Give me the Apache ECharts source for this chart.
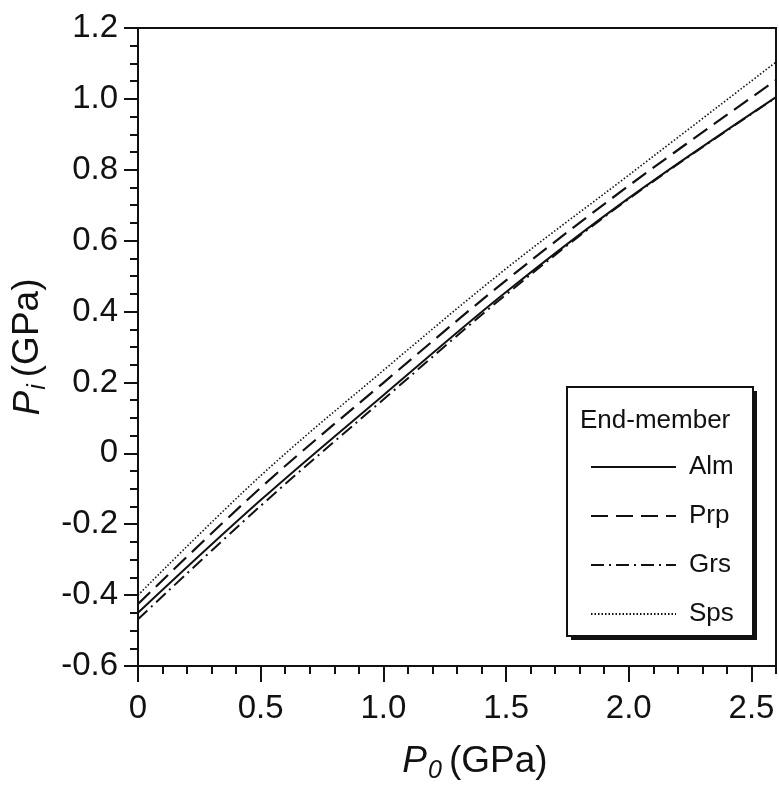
<!DOCTYPE html>
<html>
<head>
<meta charset="utf-8">
<script src="https://cdn.jsdelivr.net/npm/echarts@6/dist/echarts.min.js"></script>
<style>
  html, body { margin: 0; padding: 0; background: #fff; }
  #chart { width: 779px; height: 790px; }
</style>
</head>
<body>
<div id="chart"></div>
<script>
// Initial pressure P0 (GPa) at which each curve is sampled
const p0 = [0, 0.5, 1.0, 1.5, 2.0, 2.6];

// Inclusion pressure Pi (GPa) for each garnet end-member
const alm = [-0.450, -0.132, 0.164, 0.455, 0.720, 1.005];
const prp = [-0.425, -0.097, 0.199, 0.488, 0.755, 1.053];
const grs = [-0.468, -0.148, 0.152, 0.448, 0.718, 1.004];
const sps = [-0.400, -0.063, 0.234, 0.521, 0.785, 1.104];

const seriesNames = ['Alm', 'Prp', 'Grs', 'Sps'];
const legendTitle = 'End-member';

// Axis ranges and tick positions
const xMin = 0, xMax = 2.6, xMajor = 0.5, xMinor = 0.1;
const yMin = -0.6, yMax = 1.2, yMajor = 0.2;
const xMajorTicks = [0, 0.5, 1.0, 1.5, 2.0, 2.5];

const FONT = "'Liberation Sans', Arial, sans-serif";

function pairs(xs, ys) { return xs.map((x, i) => [x, ys[i]]); }

function xLabel(v) {
  if (Math.abs(v * 2 - Math.round(v * 2)) > 1e-6) return '';
  if (v > 2.55) return '';
  return v === 0 ? '0' : v.toFixed(1);
}
function yLabel(v) {
  if (Math.abs(v) < 1e-9) return '0';
  return v.toFixed(1);
}

const titleRich = {
  p: { fontFamily: FONT, fontSize: 37, fontStyle: 'italic', color: '#111', lineHeight: 44, verticalAlign: 'middle' },
  s: { fontFamily: FONT, fontSize: 25, fontStyle: 'italic', color: '#111', lineHeight: 25, verticalAlign: 'bottom', padding: [0, 7, 0, 1] },
  n: { fontFamily: FONT, fontSize: 37, color: '#111', lineHeight: 44, verticalAlign: 'middle' }
};

const lineCommon = { type: 'line', smooth: 0.35, showSymbol: false, symbol: 'none', xAxisIndex: 0, yAxisIndex: 0 };

const chart = echarts.init(document.getElementById('chart'), null, { renderer: 'canvas' });

chart.setOption({
  animation: false,
  backgroundColor: '#fff',
  grid: {
    left: 138, right: 3, top: 28, bottom: 124,
    show: true, borderColor: '#111', borderWidth: 2, backgroundColor: 'transparent'
  },
  xAxis: [
    {
      type: 'value', min: xMin, max: xMax, interval: xMinor,
      name: '{p|P}{s|0}{n|(GPa)}',
      nameLocation: 'middle', nameGap: 74,
      nameTextStyle: { rich: titleRich, padding: [0, 0, 0, 36] },
      axisLine: { show: true, onZero: false, lineStyle: { color: '#111', width: 2 } },
      axisTick: { show: true, inside: false, length: 8, lineStyle: { color: '#111', width: 2 } },
      axisLabel: { formatter: xLabel, margin: 26, fontFamily: FONT, fontSize: 33, color: '#111' },
      splitLine: { show: false }
    },
    {
      type: 'value', min: xMin, max: xMax, interval: xMajor, position: 'bottom',
      axisLine: { show: false, onZero: false },
      axisTick: { show: true, length: 16, customValues: xMajorTicks, lineStyle: { color: '#111', width: 2 } },
      axisLabel: { show: false },
      splitLine: { show: false }
    }
  ],
  yAxis: {
    type: 'value', min: yMin, max: yMax, interval: yMajor,
    name: '{p|P}{s|i}{n|(GPa)}',
    nameLocation: 'middle', nameGap: 79, nameRotate: 90,
    nameTextStyle: { rich: titleRich },
    axisLine: { show: true, onZero: false, lineStyle: { color: '#111', width: 2 } },
    axisTick: { show: true, length: 14, lineStyle: { color: '#111', width: 2 } },
    minorTick: { show: true, splitNumber: 4, length: 8, lineStyle: { color: '#111', width: 2 } },
    axisLabel: { formatter: yLabel, margin: 20, fontFamily: FONT, fontSize: 33, color: '#111' },
    splitLine: { show: false },
    minorSplitLine: { show: false }
  },
  legend: {
    show: true, z: 10,
    left: 585, top: 449, orient: 'vertical',
    itemWidth: 85, itemHeight: 26, itemGap: 23,
    data: seriesNames,
    itemStyle: { opacity: 0 },
    textStyle: { fontFamily: FONT, fontSize: 26, color: '#111', padding: [0, 0, 0, 8] }
  },
  graphic: [
    { type: 'rect', z: 1, shape: { x: 571, y: 391, width: 186, height: 249 }, style: { fill: '#111' } },
    { type: 'rect', z: 1, shape: { x: 567, y: 387, width: 186, height: 249 }, style: { fill: '#fff', stroke: '#111', lineWidth: 2 } },
    { type: 'text', z: 2, left: 580, top: 408, style: { text: legendTitle, font: '26px ' + FONT, fill: '#111' } }
  ],
  series: [
    Object.assign({}, lineCommon, { name: seriesNames[2], data: pairs(p0, grs), z: 2,
      lineStyle: { color: '#111', width: 2, type: [13, 5, 2, 5] }, itemStyle: { color: '#111' } }),
    Object.assign({}, lineCommon, { name: seriesNames[0], data: pairs(p0, alm), z: 3,
      lineStyle: { color: '#111', width: 2, type: 'solid' }, itemStyle: { color: '#111' } }),
    Object.assign({}, lineCommon, { name: seriesNames[1], data: pairs(p0, prp), z: 3,
      lineStyle: { color: '#111', width: 2.2, type: [17, 8] }, itemStyle: { color: '#111' } }),
    Object.assign({}, lineCommon, { name: seriesNames[3], data: pairs(p0, sps), z: 3,
      lineStyle: { color: '#111', width: 1.6, type: [1.5, 2] }, itemStyle: { color: '#111' } })
  ]
});
</script>
</body>
</html>
